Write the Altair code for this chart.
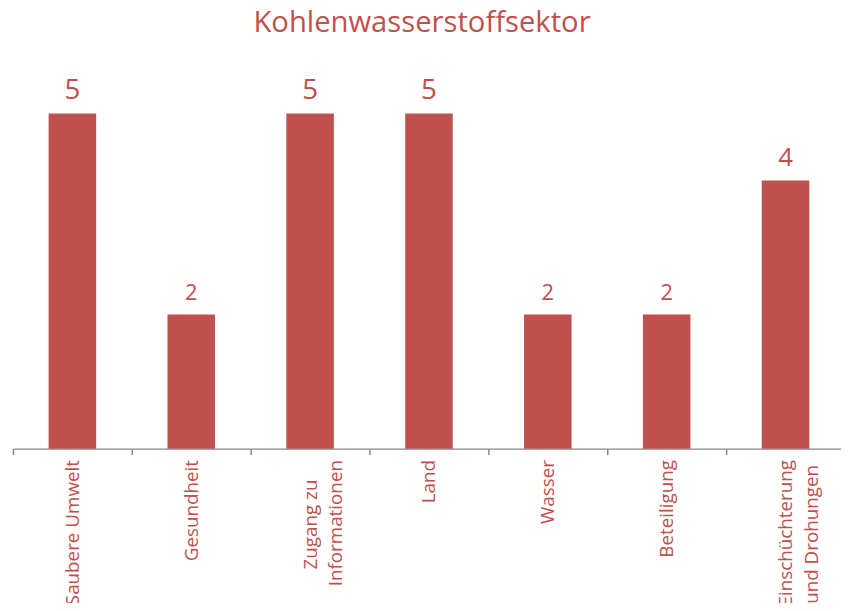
import altair as alt
import pandas as pd

categories = ["Saubere Umwelt", "Gesundheit", "Zugang zu\nInformationen", "Land",
              "Wasser", "Beteiligung", "Einschüchterung\nund Drohungen"]
values = [5, 2, 5, 5, 2, 2, 4]

df = pd.DataFrame({"cat": categories, "val": values})
RED = "#C0504D"
FONT = "Open Sans"
PAD = "\u00a0"   # no-break space
END = "\u200c"   # zero-width non-joiner keeps the padding from being trimmed

# centre the shorter line of two-line labels, as in the original
label_expr = (
    "datum.value == 'Zugang zu\\nInformationen' ? ['Zugang zu" + PAD * 4 + END + "', 'Informationen'] : "
    "datum.value == 'Einschüchterung\\nund Drohungen' ? ['Einschüchterung', 'und Drohungen" + PAD + END + "'] : "
    "split(datum.label, '\\n')"
)

x = alt.X("cat:N", sort=categories, title=None,
          scale=alt.Scale(paddingInner=0, paddingOuter=0),
          axis=alt.Axis(labelAngle=-90, labelAlign="right", labelBaseline="middle",
                        labelExpr=label_expr,
                        labelFont=FONT, labelFontSize=19, labelColor=RED,
                        labelLineHeight=26, labelPadding=5,
                        domainColor="#888888", tickColor="#888888", tickSize=6,
                        tickBand="extent", domainWidth=1.5, tickWidth=1.5))
y = alt.Y("val:Q", scale=alt.Scale(domain=[0, 6]), axis=None)

bars = alt.Chart(df).mark_bar(color=RED, width=alt.RelativeBandSize(0.4)).encode(x=x, y=y)
text = alt.Chart(df).mark_text(color=RED, font=FONT, baseline="alphabetic", dy=-15).encode(
    x=alt.X("cat:N", sort=categories), y=y, text="val:Q",
    size=alt.Size("val:Q", scale=alt.Scale(domain=[2, 5], range=[22, 28]), legend=None))

chart = (bars + text).properties(
    width=840, height=406,
    title=alt.TitleParams("Kohlenwasserstoffsektor", font=FONT, fontSize=29.5,
                          fontWeight="normal", color=RED, offset=8, dx=-7),
    autosize=alt.AutoSizeParams(type="none"),
    padding={"left": 5, "top": 36, "right": -4, "bottom": 153},
).configure_view(stroke=None)

chart.save("out.html", embed_options={"renderer": "svg", "actions": False})
